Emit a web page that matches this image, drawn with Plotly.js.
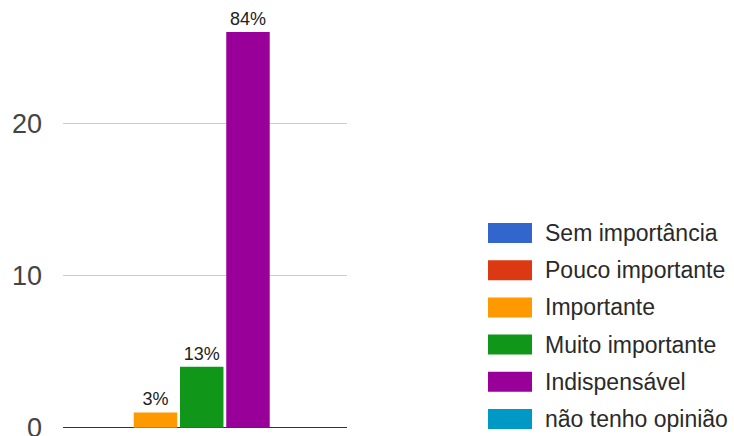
<!DOCTYPE html>
<html>
<head>
<meta charset="utf-8">
<script src="https://cdn.plot.ly/plotly-3.0.1.min.js"></script>
<style>html,body{margin:0;padding:0;background:#fff;}#chart{width:734px;height:436px;}</style>
</head>
<body>
<div id="chart"></div>
<script>
// Data
var seriesNames = ['Sem importância', 'Pouco importante', 'Importante', 'Muito importante', 'Indispensável', 'não tenho opinião'];
var counts = [0, 0, 1, 4, 26, 0];
var percentLabels = ['', '', '3%', '13%', '84%', ''];
var seriesColors = ['#3366cc', '#dc3912', '#ff9900', '#109618', '#990099', '#0099c6'];
var category = ['resposta'];
var yTicks = [0, 10, 20];

var W = 734, H = 436;
var mL = 63, mR = W - 347, mT = 0, mB = 8;
var pw = W - mL - mR, ph = H - mT - mB;
function px(x) { return (x - mL) / pw; }
function py(y) { return (H - mB - y) / ph; }

var traces = seriesNames.map(function (name, i) {
  return {
    type: 'bar',
    name: name,
    x: category,
    y: [counts[i]],
    text: [percentLabels[i]],
    textposition: 'outside',
    textfont: {family: 'Liberation Sans, Arial, sans-serif', size: 18, color: '#222'},
    cliponaxis: false,
    marker: {color: seriesColors[i], line: {width: 0}},
    hoverinfo: 'none'
  };
});

// custom legend
var shapes = [], annotations = [];
seriesNames.forEach(function (name, i) {
  var cy = 233 + i * 37.2;
  shapes.push({
    type: 'rect', xref: 'paper', yref: 'paper',
    x0: px(488), x1: px(532), y0: py(cy - 10), y1: py(cy + 10),
    fillcolor: seriesColors[i], line: {width: 0}
  });
  annotations.push({
    xref: 'paper', yref: 'paper', x: px(543), y: py(cy),
    xanchor: 'left', yanchor: 'middle', showarrow: false,
    text: name,
    font: {family: 'Liberation Sans, Arial, sans-serif', size: 23, color: '#2a2a2a'}
  });
});

var layout = {
  width: W, height: H,
  margin: {l: mL, r: mR, t: mT, b: mB, pad: 0},
  paper_bgcolor: '#fff', plot_bgcolor: '#fff',
  barmode: 'group', bargap: 0, bargroupgap: 0.06,
  showlegend: false,
  xaxis: {type: 'category', range: [-0.4166, 0.6068], showticklabels: false, showgrid: false, zeroline: false, showline: false, ticks: '', fixedrange: true},
  yaxis: {
    range: [-0.02, 28.1], tickvals: yTicks, ticktext: yTicks.map(String),
    showgrid: true, gridcolor: '#cccccc', gridwidth: 1,
    zeroline: true, zerolinecolor: '#333333', zerolinewidth: 1.5,
    showline: false, ticks: '', ticklabelstandoff: 20, ticklabeloverflow: 'allow',
    tickfont: {family: 'Liberation Sans, Arial, sans-serif', size: 27, color: '#444'},
    fixedrange: true
  },
  shapes: shapes,
  annotations: annotations
};

Plotly.newPlot('chart', traces, layout, {staticPlot: true, displayModeBar: false});
</script>
</body>
</html>
